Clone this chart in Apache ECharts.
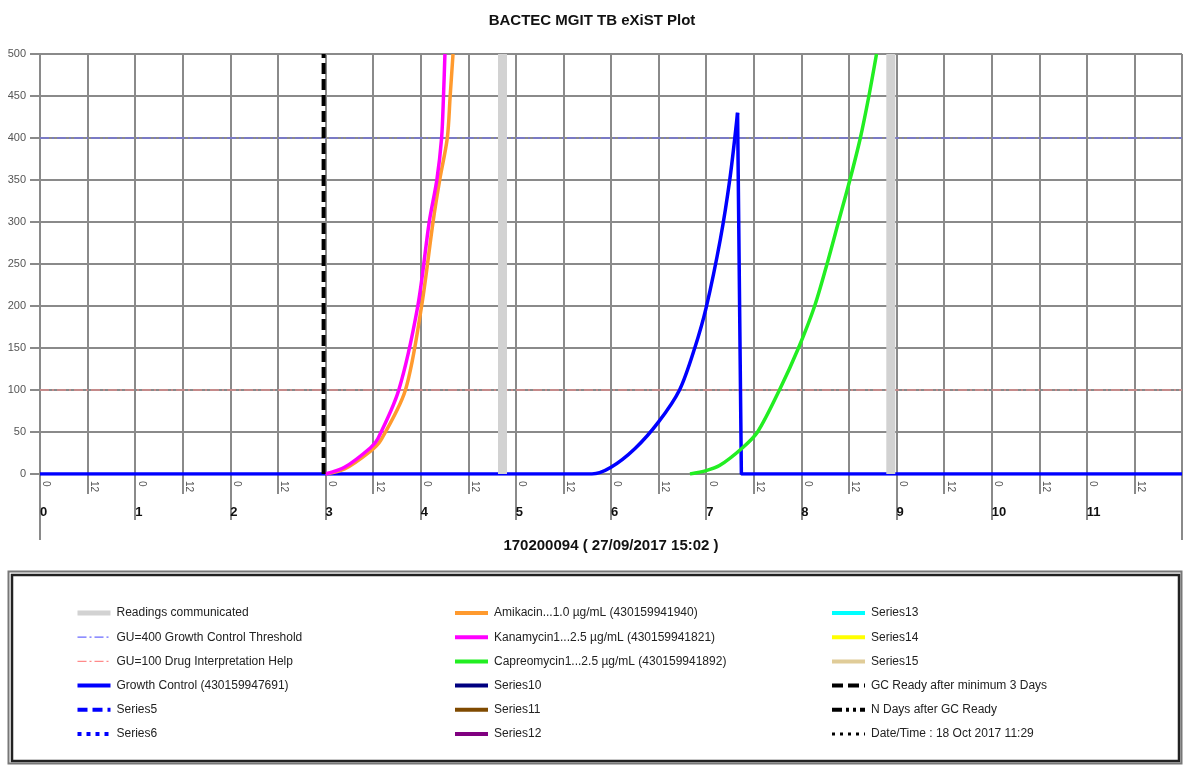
<!DOCTYPE html>
<html><head><meta charset="utf-8">
<script src="https://cdn.jsdelivr.net/npm/echarts@6/dist/echarts.min.js"></script>
<style>html,body{margin:0;padding:0;background:#fff}#c{width:1184px;height:765px}</style>
</head><body><div id="c"></div>
<script>
const titleText = 'BACTEC MGIT TB eXiST Plot';
const xAxisTitle = '170200094 ( 27/09/2017 15:02 )';
const halfDayTickValues = [0,0.5,1,1.5,2,2.5,3,3.5,4,4.5,5,5.5,6,6.5,7,7.5,8,8.5,9,9.5,10,10.5,11,11.5];
const halfDayTickLabels = ['0','12'];
const edgeTickValues = [0, 12];
const readingsDays = [4.86, 8.94];
const gcReadyDay = 2.98;
const growthThreshold = 400;
const drugThreshold = 100;
const growthControlRise = [[0,0],[5.8,0],[6.0,8],[6.25,30],[6.5,62],[6.72,100],[6.88,150],[7.0,198],[7.15,280],[7.25,352],[7.33,430]];
const growthControlDrop = [[7.33,430],[7.37,0],[12,0]];
const amikacin = [[3.0,0],[3.2,6],[3.47,27],[3.58,40],[3.84,100],[4.01,200],[4.13,300],[4.2,350],[4.28,400],[4.31,450],[4.34,500]];
const kanamycin = [[3.0,0],[3.2,8],[3.47,31],[3.55,42],[3.77,100],[3.97,200],[4.09,300],[4.17,350],[4.22,400],[4.24,450],[4.255,500]];
const capreomycin = [[6.83,0],[7.0,4],[7.14,10],[7.38,31],[7.54,50],[7.77,100],[7.97,150],[8.14,200],[8.27,250],[8.39,300],[8.51,350],[8.62,400],[8.71,450],[8.79,500]];

const NAMES = {
  readings: 'Readings communicated',
  gu400: 'GU=400 Growth Control Threshold',
  gu100: 'GU=100 Drug Interpretation Help',
  gc: 'Growth Control (430159947691)',
  s5: 'Series5', s6: 'Series6',
  ami: 'Amikacin...1.0 µg/mL (430159941940)',
  kan: 'Kanamycin1...2.5 µg/mL (430159941821)',
  cap: 'Capreomycin1...2.5 µg/mL (430159941892)',
  s10: 'Series10', s11: 'Series11', s12: 'Series12',
  s13: 'Series13', s14: 'Series14', s15: 'Series15',
  gcr: 'GC Ready after minimum 3 Days',
  nd: 'N Days after GC Ready',
  dt: 'Date/Time : 18 Oct 2017 11:29'
};
const FONT = 'Liberation Sans, Arial, sans-serif';
const GRID = '#8a8a8a';

function line(name, data, color, width, type, extra) {
  return Object.assign({
    type: 'line', name, data, xAxisIndex: 0, yAxisIndex: 0,
    symbol: 'none', showSymbol: false, silent: true, animation: false,
    lineStyle: { color, width, type: type || 'solid', cap: 'butt' },
    itemStyle: { color }
  }, extra || {});
}

const readingsData = [];
readingsDays.forEach(d => { readingsData.push([d, 0], [d, 500], [d, '-']); });
const SM = { smooth: 0.3 };

const series = [
  line(NAMES.gu400, [[0, growthThreshold], [12, growthThreshold]], '#6a6aff', 1, [9, 3, 2, 3]),
  line(NAMES.gu100, [[0, drugThreshold], [12, drugThreshold]], '#ff8a8a', 1, [9, 3, 2, 3]),
  line(NAMES.gc, growthControlRise, '#0000ff', 3.5, null, SM),
  line(NAMES.gc, growthControlDrop, '#0000ff', 3.5),
  line(NAMES.ami, amikacin, '#ff9a2e', 3.5, null, SM),
  line(NAMES.kan, kanamycin, '#ff00ff', 3.5, null, SM),
  line(NAMES.cap, capreomycin, '#22ee22', 3.5, null, SM),
  line(NAMES.readings, readingsData, '#d2d2d2', 9),
  line(NAMES.gcr, [[gcReadyDay, 0], [gcReadyDay, 500]], '#000000', 4, [11, 5]),
  line(NAMES.s5, [], '#0000ff', 4, [10, 5]),
  line(NAMES.s6, [], '#0000ff', 4, [4, 5]),
  line(NAMES.s10, [], '#000080', 4),
  line(NAMES.s11, [], '#7f4a00', 4),
  line(NAMES.s12, [], '#800080', 4),
  line(NAMES.s13, [], '#00ffff', 4),
  line(NAMES.s14, [], '#ffff00', 4),
  line(NAMES.s15, [], '#e0cc98', 4),
  line(NAMES.nd, [], '#000000', 4, [10, 4, 3, 4, 3, 4]),
  line(NAMES.dt, [], '#000000', 3, [3, 5])
];

function legendCol(left, items) {
  return {
    left, top: 602, orient: 'vertical', itemWidth: 33, itemHeight: 14, itemGap: 12.2,
    selectedMode: false,
    itemStyle: { opacity: 0 },
    textStyle: { fontSize: 12, color: '#222', fontFamily: FONT, padding: [0, 0, 0, 1] },
    data: items.map(([n, w]) => ({ name: n, lineStyle: { width: w }, itemStyle: { opacity: 0 } }))
  };
}

const option = {
  animation: false,
  backgroundColor: '#ffffff',
  title: { text: titleText, left: 'center', top: 8,
    textStyle: { fontSize: 15, fontWeight: 'bold', color: '#111', fontFamily: FONT } },
  grid: { left: 40, right: 2, top: 54, bottom: 291, containLabel: false },
  xAxis: [
    { type: 'value', min: 0, max: 12, interval: 0.5, position: 'bottom',
      axisLine: { show: false },
      axisTick: { show: true, length: 20, lineStyle: { color: GRID, width: 2 } },
      axisLabel: { show: false },
      splitLine: { show: true, lineStyle: { color: GRID, width: 2 } } },
    { type: 'value', min: 0, max: 12, interval: 1, position: 'bottom',
      axisLine: { show: false },
      axisTick: { show: true, length: 46, lineStyle: { color: GRID, width: 2 } },
      axisLabel: { show: true, showMaxLabel: false, align: 'left', margin: 32,
        fontSize: 13, fontWeight: 'bold', color: '#111', fontFamily: FONT },
      splitLine: { show: false },
      name: xAxisTitle, nameLocation: 'middle', nameGap: 64,
      nameTextStyle: { fontSize: 15, fontWeight: 'bold', color: '#111', fontFamily: FONT } },
    { type: 'value', min: -0.065, max: 11.935, position: 'bottom',
      axisLine: { show: false }, axisTick: { show: false }, splitLine: { show: false },
      axisLabel: { show: true, customValues: halfDayTickValues, rotate: -90, margin: 7,
        fontSize: 10, color: '#555', fontFamily: FONT,
        formatter: v => halfDayTickLabels[Math.round(v * 2) % 2] } },
    { type: 'value', min: 0, max: 12, position: 'bottom',
      axisLine: { show: false }, splitLine: { show: false }, axisLabel: { show: false },
      axisTick: { show: true, customValues: edgeTickValues, length: 66, lineStyle: { color: GRID, width: 2 } } }
  ],
  yAxis: { type: 'value', min: 0, max: 500, interval: 50,
    axisLine: { show: true, lineStyle: { color: GRID, width: 2 } },
    axisTick: { show: true, length: 10, lineStyle: { color: GRID, width: 2 } },
    axisLabel: { margin: 14, fontSize: 11, color: '#555', fontFamily: FONT },
    splitLine: { show: true, lineStyle: { color: GRID, width: 2 } } },
  legend: [
    legendCol(70, [[NAMES.readings, 5], [NAMES.gu400, 1.2], [NAMES.gu100, 1.2], [NAMES.gc, 4], [NAMES.s5, 4], [NAMES.s6, 4]]),
    legendCol(448, [[NAMES.ami, 4], [NAMES.kan, 4], [NAMES.cap, 4], [NAMES.s10, 4], [NAMES.s11, 4], [NAMES.s12, 4]]),
    legendCol(825, [[NAMES.s13, 4], [NAMES.s14, 4], [NAMES.s15, 4], [NAMES.gcr, 4], [NAMES.nd, 4], [NAMES.dt, 3]])
  ],
  graphic: [
    { type: 'rect', silent: true, shape: { x: 8.5, y: 571.5, width: 1173, height: 192 },
      style: { fill: 'none', stroke: '#777', lineWidth: 2 } },
    { type: 'rect', silent: true, shape: { x: 12, y: 575, width: 1167, height: 186 },
      style: { fill: 'none', stroke: '#222', lineWidth: 2.5 } }
  ],
  series
};
const chart = echarts.init(document.getElementById('c'), null, { renderer: 'canvas' });
chart.setOption(option);
</script></body></html>
